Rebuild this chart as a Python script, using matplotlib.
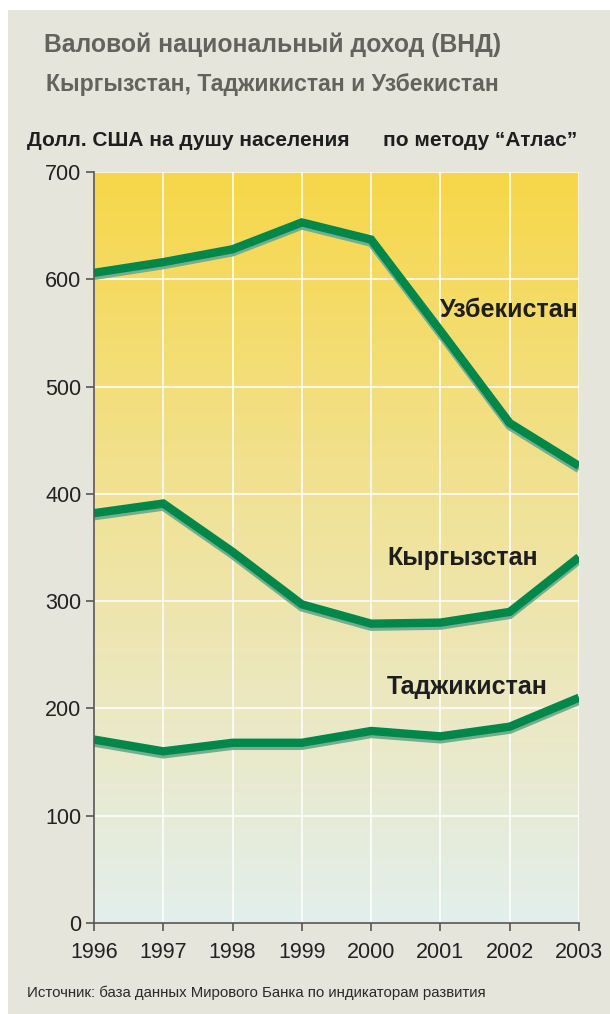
import matplotlib
matplotlib.use('Agg')
import matplotlib.pyplot as plt
import matplotlib.patheffects as pe
from matplotlib.colors import LinearSegmentedColormap
from matplotlib.patches import Rectangle
import numpy as np

plt.rcParams['font.family'] = ['Liberation Sans', 'DejaVu Sans']

years = [1996, 1997, 1998, 1999, 2000, 2001, 2002, 2003]
uzbekistan = [606, 616, 628, 653, 637, 552, 466, 426]
kyrgyzstan = [382, 391, 346, 297, 279, 280, 290, 341]
tajikistan = [171, 160, 168, 168, 179, 174, 183, 210]

series = [
    ('Узбекистан', uzbekistan, 2002.0, 571),
    ('Кыргызстан', kyrgyzstan, 2001.32, 340),
    ('Таджикистан', tajikistan, 2001.39, 220),
]

green = '#00874a'
shadow = '#74ad8f'

fig = plt.figure(figsize=(6.1, 10.14), dpi=100)
fig.patch.set_facecolor('white')
fig.patches.append(Rectangle((8 / 610, 0), 1, 1 - 10 / 1014, transform=fig.transFigure,
                             facecolor='#e6e5db', edgecolor='none', zorder=-10))

ax = fig.add_axes([94 / 610, 91 / 1014, 485 / 610, 751 / 1014])
ax.set_xlim(1996, 2003)
ax.set_ylim(0, 700)

# gradient background
cmap = LinearSegmentedColormap.from_list('bg', [
    (0.0, '#e2efec'), (0.3, '#ece8c0'), (0.6, '#f1e18f'), (1.0, '#f7d748')])
grad = np.linspace(0, 1, 256).reshape(-1, 1)
ax.imshow(grad, cmap=cmap, aspect='auto', origin='lower',
          extent=[1996, 2003, 0, 700], zorder=0)

ax.set_xticks(years)
ax.set_yticks(range(0, 701, 100))
ax.grid(True, color='white', linewidth=1.1, zorder=1)
ax.set_axisbelow(False)

for name, vals, tx, ty in series:
    ax.plot(years, vals, color=green, linewidth=6, solid_joinstyle='miter',
            solid_capstyle='butt', zorder=3,
            path_effects=[pe.SimpleLineShadow(offset=(0, -2.2), shadow_color=shadow, alpha=1),
                          pe.Normal()])
    ax.text(tx, ty, name, fontsize=18, fontweight='bold', color='#1e1e1e',
            ha='center', va='center', zorder=4)

for s in ['top', 'right']:
    ax.spines[s].set_visible(False)
for s in ['left', 'bottom']:
    ax.spines[s].set_color('#555555')
    ax.spines[s].set_linewidth(1.2)
    ax.spines[s].set_zorder(5)

ax.tick_params(axis='both', colors='#555555', length=6, width=1.2, labelsize=15.5,
               labelcolor='#222222')
ax.tick_params(axis='x', pad=8)
ax.tick_params(axis='y', pad=3)

fig.text(0.447, 1 - 45 / 1014, 'Валовой национальный доход (ВНД)', fontsize=17.8,
         fontweight='bold', color='#62635a', ha='center', va='center')
fig.text(0.447, 1 - 85 / 1014, 'Кыргызстан, Таджикистан и Узбекистан', fontsize=16.6,
         fontweight='bold', color='#62635a', ha='center', va='center')
fig.text(27 / 610, 1 - 140 / 1014, 'Долл. США на душу населения', fontsize=15,
         fontweight='bold', color='#1e1e1e', ha='left', va='center')
fig.text(577 / 610, 1 - 140 / 1014, 'по методу “Атлас”', fontsize=15,
         fontweight='bold', color='#1e1e1e', ha='right', va='center')
fig.text(27 / 610, 1 - 993 / 1014,
         'Источник: база данных Мирового Банка по индикаторам развития',
         fontsize=10.8, color='#2a2a2a', ha='left', va='center')

fig.savefig('out.png', dpi=100, facecolor=fig.get_facecolor())
